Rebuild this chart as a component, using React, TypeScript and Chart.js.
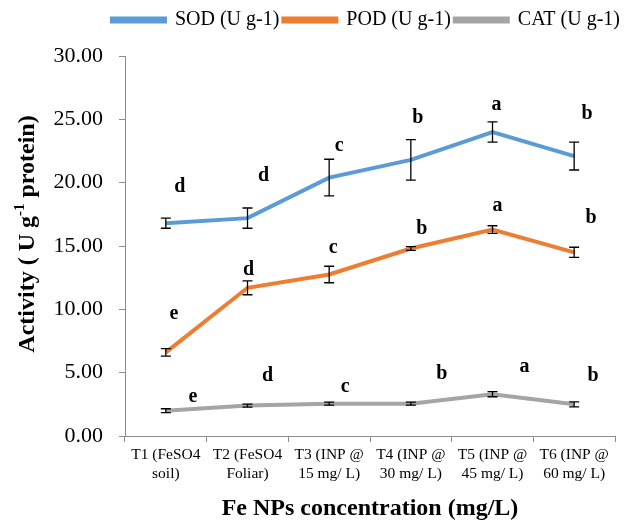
import React, { useEffect, useRef } from "react";
import { Chart, registerables } from "chart.js";

Chart.register(...registerables);

const categories: string[][] = [
  ["T1 (FeSO4", "soil)"],
  ["T2 (FeSO4", "Foliar)"],
  ["T3 (INP @", "15 mg/ L)"],
  ["T4 (INP @", "30 mg/ L)"],
  ["T5 (INP @", "45 mg/ L)"],
  ["T6 (INP @", "60 mg/ L)"],
];

const sodValues = [16.8, 17.2, 20.4, 21.8, 24.0, 22.1];
const sodErrors = [0.4, 0.8, 1.45, 1.6, 0.8, 1.1];
const sodLetters = ["d", "d", "c", "b", "a", "b"];

const podValues = [6.6, 11.7, 12.75, 14.8, 16.3, 14.5];
const podErrors = [0.3, 0.55, 0.65, 0.15, 0.3, 0.4];
const podLetters = ["e", "d", "c", "b", "a", "b"];

const catValues = [2.0, 2.4, 2.55, 2.55, 3.3, 2.5];
const catErrors = [0.15, 0.12, 0.12, 0.12, 0.2, 0.2];
const catLetters = ["e", "d", "c", "b", "a", "b"];

const yTicks = [0, 5, 10, 15, 20, 25, 30];

const FONT = "'Liberation Serif', 'Times New Roman', serif";

// pixel offsets of significance letters relative to their points
const letterOffsets: number[][][] = [
  [[14, -36], [16, -42], [10, -32], [7, -42], [4, -27], [13, -42]],
  [[8, -39], [1, -18], [4, -27], [11, -20], [5, -24], [17, -35]],
  [[27, -14], [20, -30], [16, -17], [31, -30], [32, -27], [19, -29]],
];

const errorBarPlugin = {
  id: "errorBars",
  beforeLayout(chart: any) {
    const lg = chart.legend;
    if (lg && !lg._patched) {
      lg._patched = true;
      const fit = lg.fit;
      lg.fit = function () {
        fit.call(this);
        this.height += 22;
      };
      const draw = lg.draw;
      lg.draw = function () {
        this.ctx.save();
        this.ctx.translate(9, 6);
        draw.call(this);
        this.ctx.restore();
      };
    }
  },
  afterDatasetsDraw(chart: any) {
    const ctx = chart.ctx;
    const y = chart.scales.y;
    ctx.save();
    ctx.strokeStyle = "#000";
    ctx.lineWidth = 1.3;
    chart.data.datasets.forEach((ds: any, i: number) => {
      const meta = chart.getDatasetMeta(i);
      meta.data.forEach((pt: any, j: number) => {
        const v = ds.data[j];
        const e = ds.errors[j];
        const top = y.getPixelForValue(v + e);
        const bot = y.getPixelForValue(v - e);
        const x = pt.x;
        ctx.beginPath();
        ctx.moveTo(x, top);
        ctx.lineTo(x, bot);
        ctx.moveTo(x - 5, top);
        ctx.lineTo(x + 5, top);
        ctx.moveTo(x - 5, bot);
        ctx.lineTo(x + 5, bot);
        ctx.stroke();
      });
    });
    ctx.restore();
  },
  afterDraw(chart: any) {
    const ctx = chart.ctx;
    ctx.save();
    ctx.fillStyle = "#000";
    ctx.font = `bold 20px ${FONT}`;
    ctx.textAlign = "center";
    ctx.textBaseline = "middle";
    chart.data.datasets.forEach((ds: any, i: number) => {
      const meta = chart.getDatasetMeta(i);
      meta.data.forEach((pt: any, j: number) => {
        const off = letterOffsets[i][j];
        ctx.fillText(ds.letters[j], pt.x + off[0], pt.y + off[1]);
      });
    });
    // y-axis title with superscript
    const area = chart.chartArea;
    const cy = (area.top + area.bottom) / 2 - 12;
    ctx.translate(26, cy);
    ctx.rotate(-Math.PI / 2);
    const p1 = "Activity ( U g";
    const sup = "-1";
    const p2 = " protein)";
    ctx.font = `bold 24px ${FONT}`;
    const w1 = ctx.measureText(p1).width;
    const w3 = ctx.measureText(p2).width;
    ctx.font = `bold 15px ${FONT}`;
    const w2 = ctx.measureText(sup).width;
    const total = w1 + w2 + w3;
    let x = -total / 2;
    ctx.textAlign = "left";
    ctx.textBaseline = "alphabetic";
    ctx.font = `bold 24px ${FONT}`;
    ctx.fillText(p1, x, 8);
    x += w1;
    ctx.font = `bold 15px ${FONT}`;
    ctx.fillText(sup, x, -2);
    x += w2;
    ctx.font = `bold 24px ${FONT}`;
    ctx.fillText(p2, x, 8);
    ctx.restore();
  },
};

export default function App() {
  const ref = useRef<HTMLCanvasElement>(null);
  useEffect(() => {
    if (!ref.current) return;
    const mk = (label: string, data: number[], errors: number[], letters: string[], color: string) => ({
      label,
      data,
      errors,
      letters,
      borderColor: color,
      backgroundColor: color,
      borderWidth: 4,
      pointRadius: 0,
      tension: 0,
    });
    const chart = new Chart(ref.current, {
      type: "line",
      data: {
        labels: categories,
        datasets: [
          mk("SOD (U g-1)", sodValues, sodErrors, sodLetters, "#5B9BD5"),
          mk("POD (U g-1)", podValues, podErrors, podLetters, "#ED7D31"),
          mk("CAT (U g-1)", catValues, catErrors, catLetters, "#A5A5A5"),
        ] as any,
      },
      options: {
        animation: false,
        responsive: false,
        maintainAspectRatio: false,
        layout: { padding: { top: 0, right: 24, left: 0, bottom: 0 } },
        plugins: {
          legend: {
            position: "top",
            align: "end",
            labels: {
              boxWidth: 53,
              boxHeight: 3,
              padding: 4,
              color: "#000",
              font: { family: FONT, size: 20 },
            },
          },
          tooltip: { enabled: false },
        },
        scales: {
          x: {
            offset: true,
            grid: { offset: true, drawOnChartArea: false, tickLength: 6, color: "#8c8c8c" },
            border: { color: "#8c8c8c" },
            ticks: { color: "#000", font: { family: FONT, size: 15.5 }, maxRotation: 0, autoSkip: false, padding: 4 },
            title: {
              display: true,
              text: "Fe NPs concentration (mg/L)",
              color: "#000",
              font: { family: FONT, size: 24, weight: "bold" },
              padding: { top: 0, bottom: 0 },
            },
            afterFit(scale: any) {
              scale.height = 87;
            },
          },
          y: {
            min: 0,
            max: 30,
            afterBuildTicks(scale: any) {
              scale.ticks = yTicks.map((v) => ({ value: v }));
            },
            grid: { drawOnChartArea: false, tickLength: 6, color: "#8c8c8c" },
            border: { color: "#8c8c8c" },
            ticks: {
              color: "#000",
              font: { family: FONT, size: 22 },
              padding: 16,
              callback: (v: any) => Number(v).toFixed(2),
            },
            afterFit(scale: any) {
              scale.width = 125;
            },
          },
        },
      },
      plugins: [errorBarPlugin],
    });
    return () => chart.destroy();
  }, []);
  return (
    <div style={{ position: "fixed", left: 0, top: 0, width: 639, height: 523, background: "#fff" }}>
      <canvas ref={ref} width={639} height={523} style={{ width: 639, height: 523 }} />
    </div>
  );
}
